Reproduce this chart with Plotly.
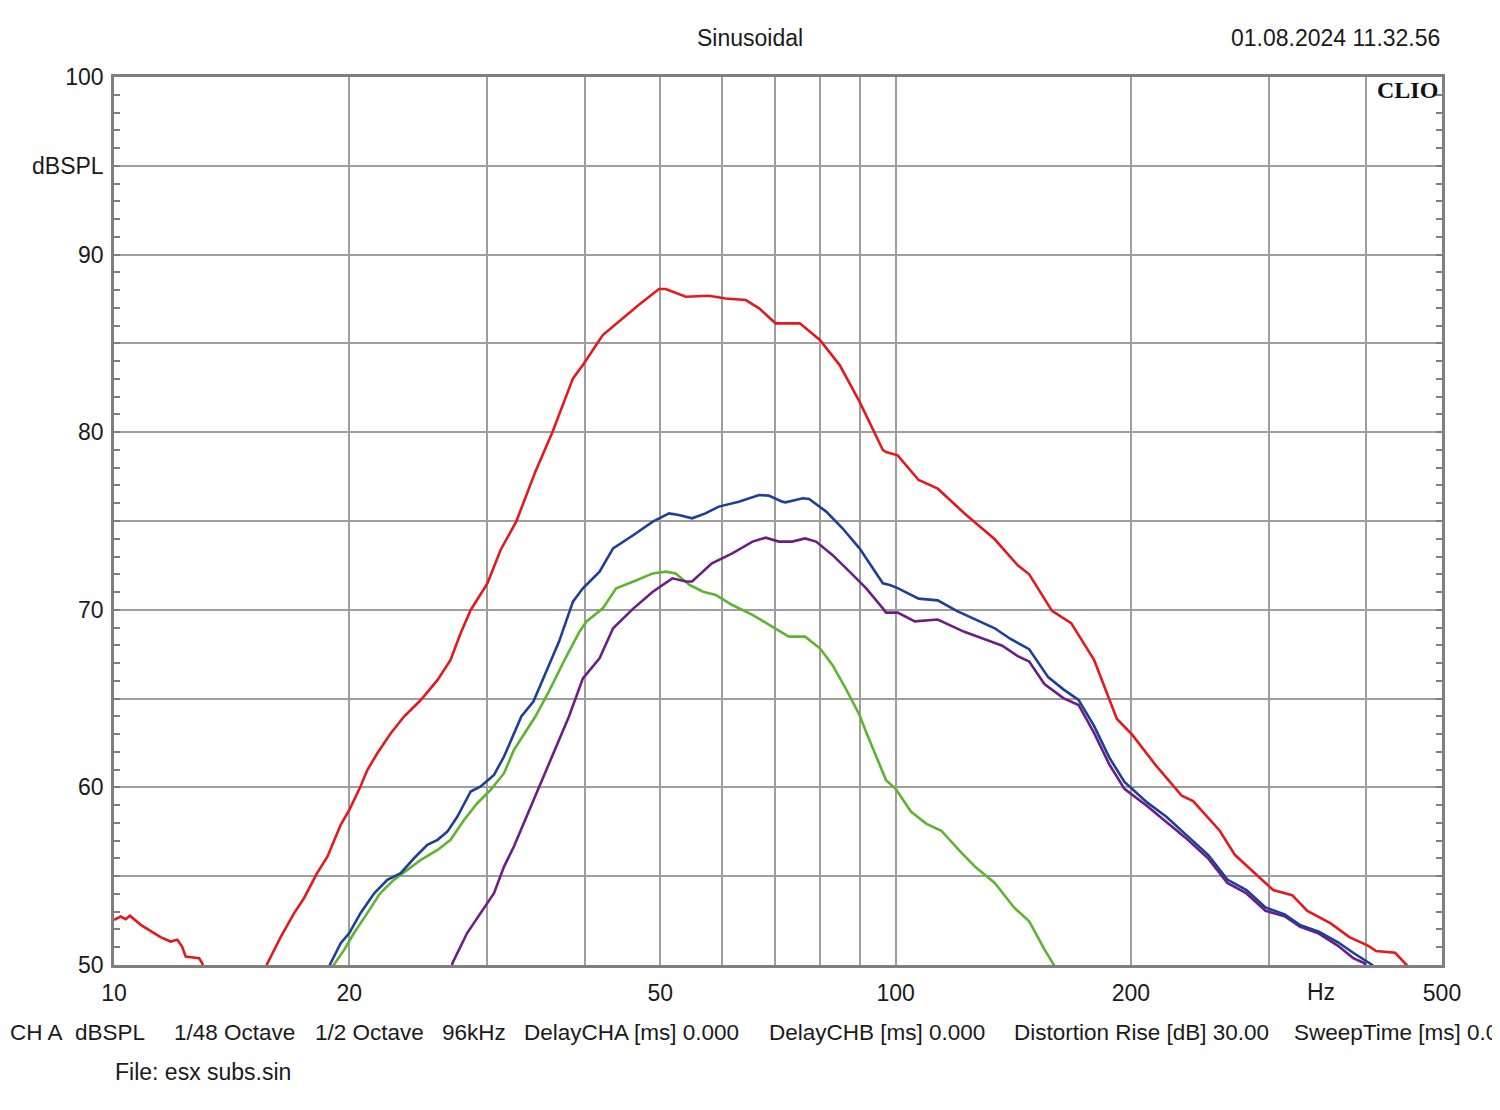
import plotly.graph_objects as go
import math

# ---------------- data (frequency in Hz, level in dBSPL) ----------------
red_f = [10.0, 10.2, 10.35, 10.48, 10.82, 11.14, 11.47, 11.81, 12.05, 12.22, 12.35, 12.85, 12.97, 13.1,
         None,
         15.5, 15.7, 16.35, 17.0, 17.5, 18.19, 18.75, 19.5, 20.0, 20.67, 21.09, 21.72, 22.6, 23.5, 24.69,
         25.94, 26.95, 27.76, 28.6, 30.04, 31.23, 32.7, 34.6, 36.4, 38.65, 39.8, 42.2, 44.2, 46.9,
         49.8, 50.8, 53.9, 57.7, 60.6, 64.3, 66.9, 70.2, 75.4, 80.0, 84.8, 89.9, 96.3, 97.2, 100.6,
         107.0, 113.2, 122.4, 133.9, 143.3, 148.2, 158.5, 167.7, 179.4, 191.9, 200.7, 214.7, 232.3,
         240.2, 259.8, 271.8, 287.4, 304.1, 321.6, 336.3, 359.8, 380.6, 402.6, 411.7, 435.5, 450.5, 455.0]
red_db = [52.54, 52.73, 52.58, 52.77, 52.26, 51.89, 51.57, 51.32, 51.42, 51.04, 50.48, 50.38, 50.10, 49.3,
          None,
          49.3, 50.06, 51.60, 52.92, 53.76, 55.17, 56.10, 57.89, 58.73, 60.05, 60.98, 61.92, 63.05, 63.99, 64.92,
          66.05, 67.18, 68.68, 69.99, 71.49, 73.37, 74.96, 77.78, 80.03, 83.03, 83.78, 85.47, 86.22, 87.16,
          88.06, 88.06, 87.63, 87.68, 87.53, 87.44, 86.97, 86.13, 86.13, 85.19, 83.78, 81.72, 79.00, 78.88, 78.70,
          77.31, 76.82, 75.44, 73.97, 72.50, 72.00, 69.94, 69.25, 67.19, 63.85, 62.97, 61.30, 59.53,
          59.23, 57.56, 56.19, 55.21, 54.22, 53.93, 53.05, 52.36, 51.57, 51.08, 50.79, 50.69, 50.00, 49.3]

blue_f = [18.7, 18.93, 19.5, 20.0, 20.67, 21.52, 22.37, 23.27, 24.2, 25.17, 25.94, 26.7, 27.5, 28.6, 29.45,
          30.63, 31.55, 32.48, 33.2, 34.4, 35.7, 37.1, 38.65, 39.8, 41.8, 43.5, 46.2, 48.9, 51.3, 52.8, 54.9,
          57.1, 59.4, 63.0, 66.9, 68.8, 71.6, 72.3, 76.1, 77.5, 81.5, 85.5, 89.9, 92.4, 96.3, 98.3, 100.6,
          107.0, 113.2, 119.7, 126.6, 133.9, 140.1, 148.2, 156.7, 163.9, 171.4, 179.4, 187.6, 196.2, 209.9,
          222.0, 234.8, 251.2, 265.7, 281.1, 297.3, 314.5, 328.9, 347.9, 368.1, 384.9, 407.2, 410.0]
blue_db = [49.5, 50.10, 51.23, 51.80, 52.92, 54.04, 54.79, 55.17, 56.01, 56.76, 57.05, 57.51, 58.36, 59.77, 60.05,
           60.70, 61.74, 63.05, 63.99, 64.83, 66.52, 68.21, 70.46, 71.21, 72.15, 73.46, 74.21, 74.96, 75.43, 75.34, 75.15,
           75.43, 75.81, 76.09, 76.46, 76.43, 76.09, 76.05, 76.28, 76.24, 75.53, 74.59, 73.46, 72.69, 71.49, 71.40, 71.22,
           70.63, 70.53, 69.94, 69.45, 68.96, 68.37, 67.78, 66.21, 65.52, 64.93, 63.46, 61.69, 60.31, 59.14,
           58.35, 57.37, 56.19, 54.81, 54.22, 53.24, 52.85, 52.26, 51.87, 51.28, 50.69, 50.00, 49.5]

purple_f = [27.0, 27.1, 28.3, 29.45, 30.63, 31.55, 32.48, 38.2, 39.8, 41.8, 43.5, 46.2, 48.9, 51.8, 53.9, 54.9,
            58.2, 61.8, 65.6, 68.2, 70.9, 73.7, 76.6, 79.1, 83.0, 87.3, 91.7, 96.3, 97.2, 100.6, 105.8,
            113.2, 122.4, 129.5, 136.9, 143.3, 148.2, 155.0, 163.9, 171.4, 179.4, 187.6, 196.2, 209.9, 222.0,
            234.8, 251.2, 265.7, 281.1, 297.3, 314.5, 328.9, 347.9, 368.1, 384.9, 398.0, 401.0]
purple_db = [49.5, 50.10, 51.80, 52.92, 54.04, 55.54, 56.67, 63.99, 66.14, 67.27, 68.96, 70.08, 71.02, 71.77, 71.59, 71.59,
             72.62, 73.18, 73.84, 74.06, 73.84, 73.84, 74.02, 73.84, 73.09, 72.15, 71.21, 70.08, 69.84, 69.84, 69.35,
             69.45, 68.76, 68.37, 67.98, 67.39, 67.09, 65.82, 65.03, 64.64, 63.07, 61.30, 59.92, 58.94, 58.05,
             57.17, 55.99, 54.62, 54.03, 53.05, 52.75, 52.16, 51.77, 51.08, 50.39, 50.10, 49.5]

green_f = [18.9, 19.1, 19.7, 20.28, 21.09, 21.9, 22.8, 23.73, 24.69, 25.94, 26.95, 28.04, 29.16, 30.33, 31.55,
           32.48, 34.6, 36.0, 37.8, 39.4, 40.2, 42.2, 43.9, 46.2, 48.9, 50.8, 52.3, 54.5, 56.7, 58.9, 61.8,
           65.6, 69.5, 73.0, 76.6, 80.0, 83.0, 86.3, 89.9, 91.4, 97.2, 100.0, 104.6, 109.4, 114.4, 121.0,
           126.6, 133.9, 141.7, 148.2, 155.0, 159.4, 160.5]
green_db = [49.5, 50.00, 50.85, 51.80, 52.92, 54.04, 54.79, 55.36, 55.92, 56.48, 57.05, 58.17, 59.11, 59.86, 60.80,
            62.11, 63.99, 65.39, 67.27, 68.77, 69.33, 70.08, 71.21, 71.59, 72.05, 72.15, 72.05, 71.40, 71.02, 70.83, 70.27,
            69.71, 69.05, 68.49, 68.49, 67.83, 66.90, 65.58, 64.08, 63.26, 60.41, 59.92, 58.64, 57.96, 57.56, 56.38,
            55.50, 54.62, 53.24, 52.46, 50.88, 50.00, 49.5]

x_tick_vals = [10, 20, 30, 40, 50, 60, 70, 80, 90, 100, 200, 300, 400, 500]
x_tick_text = ["10", "20", "", "", "50", "", "", "", "", "100", "200", "", "", "500"]
y_tick_vals = [50, 55, 60, 65, 70, 75, 80, 85, 90, 95, 100]
y_tick_text = ["50", "", "60", "", "70", "", "80", "", "90", "dBSPL", "100"]

footer_items = [("CH A", 2), ("dBSPL", 73), ("1/48 Octave", 172), ("1/2 Octave", 313), ("96kHz", 440),
                ("DelayCHA [ms] 0.000", 522), ("DelayCHB [ms] 0.000", 767),
                ("Distortion Rise [dB] 30.00", 1012), ("SweepTime [ms] 0.0", 1292)]

# ---------------- figure ----------------
OFF = 8                       # page body margin of the html page
W, H = 1500 - OFF, 1110 - OFF
PLOT_L, PLOT_R, PLOT_T, PLOT_B = 114, 1442, 77, 965   # target page pixels
L, T = PLOT_L - OFF, PLOT_T - OFF
R, B = W - (PLOT_R - OFF), H - (PLOT_B - OFF)
PW, PH = PLOT_R - PLOT_L, PLOT_B - PLOT_T
FONT = "Liberation Sans, Arial, sans-serif"
TXT = "#1a1a1a"


def px_x(px):
    return (px - PLOT_L) / PW


def px_y(py):
    return (PLOT_B - py) / PH


fig = go.Figure()
series = [
    (red_f, red_db, "#e3191b"),
    (green_f, green_db, "#5cb531"),
    (purple_f, purple_db, "#6f1d86"),
    (blue_f, blue_db, "#1e3f96"),
]
for fx, fy, col in series:
    fig.add_trace(go.Scatter(x=fx, y=fy, mode="lines", connectgaps=False,
                             line=dict(color=col, width=2.6), showlegend=False, hoverinfo="skip"))

fig.update_xaxes(type="log", range=[1, math.log10(500)],
                 tickmode="array", tickvals=x_tick_vals, ticktext=x_tick_text,
                 showgrid=True, gridcolor="#9e9e9e", gridwidth=1.6,
                 showline=True, linecolor="#7f7f7f", linewidth=2.5, mirror=True,
                 ticks="", ticklabelstandoff=6, zeroline=False,
                 tickfont=dict(family=FONT, size=23, color=TXT))
fig.update_yaxes(range=[50, 100],
                 tickmode="array", tickvals=y_tick_vals, ticktext=y_tick_text,
                 showgrid=True, gridcolor="#9e9e9e", gridwidth=1.6,
                 showline=True, linecolor="#7f7f7f", linewidth=2.5, mirror="ticks",
                 ticks="inside", ticklen=6, tickcolor="#7f7f7f", tickwidth=1.5,
                 minor=dict(tickmode="linear", tick0=50, dtick=1, ticks="inside", ticklen=6,
                            tickcolor="#7f7f7f", tickwidth=1.5, showgrid=False),
                 ticklabelstandoff=3, zeroline=False,
                 tickfont=dict(family=FONT, size=23, color=TXT))

ann = []
ann.append(dict(text="Sinusoidal", xref="paper", yref="paper", x=px_x(750), y=px_y(38),
                xanchor="center", yanchor="middle", showarrow=False,
                font=dict(family=FONT, size=23, color=TXT)))
ann.append(dict(text="01.08.2024 11.32.56", xref="paper", yref="paper", x=px_x(1442), y=px_y(38),
                xanchor="right", yanchor="middle", showarrow=False,
                font=dict(family=FONT, size=23, color=TXT)))
ann.append(dict(text="<b>CLIO</b>", xref="paper", yref="paper", x=px_x(1440), y=px_y(90),
                xanchor="right", yanchor="middle", showarrow=False,
                font=dict(family="Liberation Serif, serif", size=24, color="#111111")))
ann.append(dict(text="Hz", xref="x", yref="paper", x=math.log10(350), y=px_y(992),
                xanchor="center", yanchor="middle", showarrow=False,
                font=dict(family=FONT, size=23, color=TXT)))
for label, px in footer_items:
    ann.append(dict(text=label, xref="paper", yref="paper", x=px_x(max(px, OFF)), y=px_y(1032),
                    xanchor="left", yanchor="middle", showarrow=False,
                    font=dict(family=FONT, size=22.5, color=TXT)))
ann.append(dict(text="File: esx subs.sin", xref="paper", yref="paper", x=px_x(113), y=px_y(1072),
                xanchor="left", yanchor="middle", showarrow=False,
                font=dict(family=FONT, size=23, color=TXT)))

fig.update_layout(width=W, height=H, margin=dict(l=L, r=R, t=T, b=B),
                  paper_bgcolor="white", plot_bgcolor="white",
                  annotations=ann, showlegend=False)

fig.write_html("out.html")
